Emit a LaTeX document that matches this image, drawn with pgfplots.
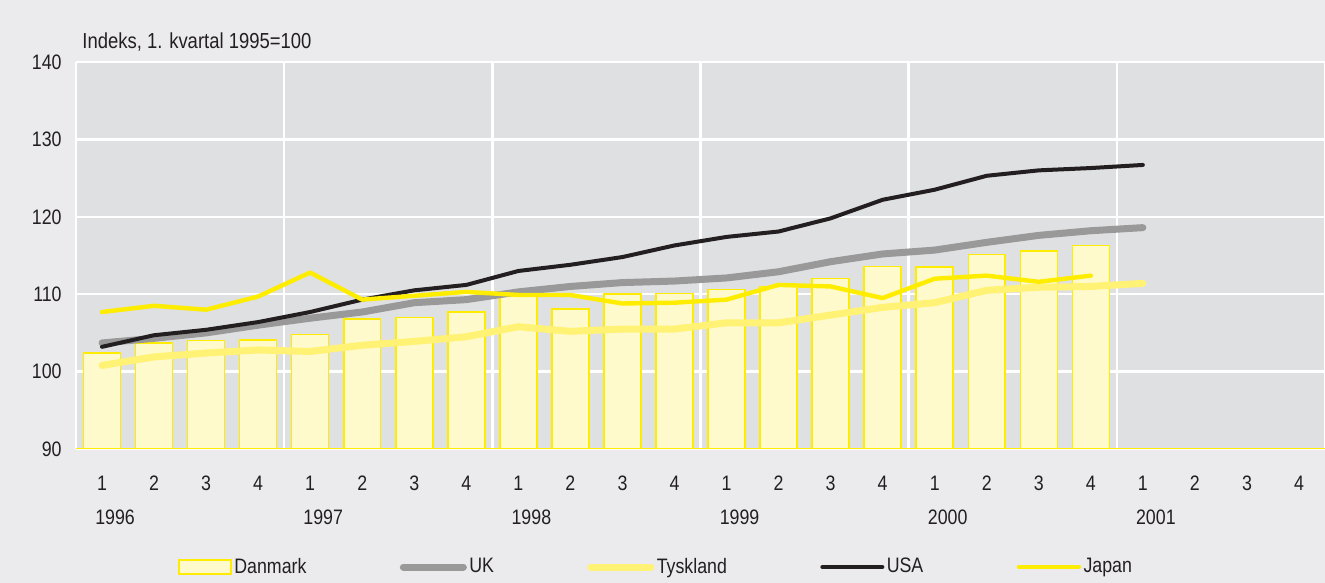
\documentclass[border=0pt]{standalone}
\usepackage{fontspec}
\setmainfont[FakeStretch=0.85]{Liberation Sans}
\usepackage{pgfplots}
\pgfplotsset{compat=1.18}
\definecolor{outerbg}{RGB}{235,235,237}
\definecolor{plotbg}{RGB}{223,224,226}
\definecolor{barfill}{RGB}{255,250,204}
\definecolor{baredge}{RGB}{255,236,0}
\definecolor{ukgray}{RGB}{153,153,153}
\definecolor{tyyellow}{RGB}{255,242,117}
\definecolor{usablack}{RGB}{35,31,32}
\definecolor{jpyellow}{RGB}{255,237,0}
\definecolor{txt}{RGB}{35,31,32}
\begin{document}
\begin{tikzpicture}[font=\fontsize{10.5}{12}\selectfont, text=txt]
\path[use as bounding box, fill=outerbg] (0,0) rectangle (662.5bp,291.5bp);
\node[anchor=west, inner sep=0, font=\fontsize{10.9}{12}\selectfont] at (41bp,270.5bp) {Indeks, 1. kvartal 1995=100};
\begin{axis}[
  at={(38bp,67bp)}, anchor=south west,
  width=624.5bp, height=193.5bp, scale only axis,
  xmin=-0.5, xmax=23.5, ymin=90, ymax=140,
  ytick={90,100,...,140},
  xtick={0,...,23},
  xticklabels={1,2,3,4,1,2,3,4,1,2,3,4,1,2,3,4,1,2,3,4,1,2,3,4},
  minor xtick={-0.5,3.5,...,23.5},
  xmajorgrids=false, xminorgrids=true, ymajorgrids=true,
  major grid style={white, line width=1.2bp},
  minor grid style={white, line width=1.2bp},
  major tick length=0pt, minor tick length=0pt,
  axis line style={draw=none},
  axis background/.style={fill=plotbg},
  /pgf/number format/assume math mode=true,
  yticklabel style={anchor=east, inner sep=0pt, xshift=-7bp, text=txt},
  xticklabel style={anchor=center, inner sep=0pt, yshift=-17bp, text=txt},
  extra x ticks={0.25,4.25,8.25,12.25,16.25,20.25},
  extra x tick labels={1996,1997,1998,1999,2000,2001},
  extra x tick style={grid=none, xticklabel style={yshift=-17bp}},
  legend columns=5,
  legend style={at={(0.0817,-0.305)}, anchor=west, draw=none, fill=none,
    inner sep=0pt, text=txt,
    /tikz/every even column/.append style={column sep=45.5bp},
    nodes={inner xsep=1.2bp}},
  legend cell align=left,
]
\addplot[ybar, bar width=0.71, bar shift=0pt, fill=barfill, draw=baredge, line width=0.75bp,
  legend image code/.code={\draw[baredge, fill=barfill, line width=0.75bp] (0bp,-3.5bp) rectangle (26bp,3.5bp);}]
  coordinates {(0,102.4)(1,103.7)(2,104.0)(3,104.1)(4,104.8)(5,106.8)(6,107.0)(7,107.7)
  (8,109.8)(9,108.1)(10,110.0)(11,110.1)(12,110.6)(13,111.0)(14,112.0)(15,113.6)
  (16,113.5)(17,115.1)(18,115.6)(19,116.3)};
\addlegendentry{Danmark}
\addplot[ukgray, line width=3.5bp, line cap=round, line join=round, no markers, sharp plot,
  legend image code/.code={\draw[ukgray, line width=3.5bp, line cap=round] (0bp,0bp) -- (30bp,0bp);}]
  coordinates {(0,103.7)(1,104.3)(2,105.0)(3,106.0)(4,106.9)(5,107.7)(6,108.9)(7,109.3)
  (8,110.3)(9,111.0)(10,111.5)(11,111.7)(12,112.1)(13,112.9)(14,114.2)(15,115.2)
  (16,115.7)(17,116.7)(18,117.6)(19,118.2)(20,118.6)};
\addlegendentry{UK}
\addplot[tyyellow, line width=3.5bp, line cap=round, line join=round, no markers, sharp plot,
  legend image code/.code={\draw[tyyellow, line width=3.5bp, line cap=round] (0bp,0bp) -- (30bp,0bp);}]
  coordinates {(0,100.8)(1,101.9)(2,102.4)(3,102.8)(4,102.6)(5,103.4)(6,103.9)(7,104.5)
  (8,105.8)(9,105.2)(10,105.5)(11,105.5)(12,106.3)(13,106.3)(14,107.3)(15,108.3)
  (16,108.9)(17,110.5)(18,110.9)(19,111.0)(20,111.4)};
\addlegendentry{Tyskland}
\addplot[usablack, line width=2bp, line cap=round, line join=round, no markers, sharp plot,
  legend image code/.code={\draw[usablack, line width=2bp, line cap=round] (0bp,0bp) -- (30bp,0bp);}]
  coordinates {(0,103.2)(1,104.7)(2,105.4)(3,106.4)(4,107.7)(5,109.3)(6,110.5)(7,111.2)
  (8,113.0)(9,113.8)(10,114.8)(11,116.3)(12,117.4)(13,118.1)(14,119.8)(15,122.2)
  (16,123.5)(17,125.3)(18,126.0)(19,126.3)(20,126.7)};
\addlegendentry{USA}
\addplot[jpyellow, line width=2.2bp, line cap=round, line join=round, no markers, sharp plot,
  legend image code/.code={\draw[jpyellow, line width=2.2bp, line cap=round] (0bp,0bp) -- (30bp,0bp);}]
  coordinates {(0,107.7)(1,108.5)(2,108.0)(3,109.7)(4,112.8)(5,109.3)(6,109.8)(7,110.3)
  (8,109.9)(9,109.9)(10,108.8)(11,108.9)(12,109.3)(13,111.2)(14,111.0)(15,109.5)
  (16,112.0)(17,112.4)(18,111.6)(19,112.4)};
\addlegendentry{Japan}
\draw[baredge, line width=1bp] (rel axis cs:0,0) -- (rel axis cs:1,0);
\end{axis}
\end{tikzpicture}
\end{document}
